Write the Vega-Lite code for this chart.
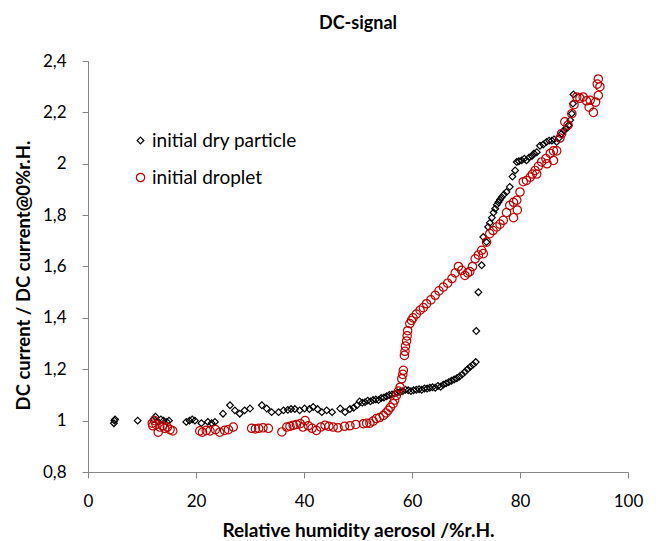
{
  "$schema": "https://vega.github.io/schema/vega-lite/v6.json",
  "autosize": "none",
  "width": 540,
  "height": 411,
  "padding": {"left": 88, "top": 61, "right": 36, "bottom": 69},
  "background": "white",
  "config": {
    "font": "Lato",
    "view": {"stroke": null},
    "axis": {"grid": false, "labelFlush": false, "labelOverlap": false, "domainColor": "#868686", "tickColor": "#868686", "tickSize": 6, "labelFontSize": 17, "labelColor": "#000000", "titleFontWeight": "bold", "titleColor": "#000000", "labelFont": "Lato", "titleFont": "Lato"}
  },
  "title": {"text": "DC-signal", "fontSize": 18, "fontWeight": "bold", "font": "Lato", "color": "#000000", "offset": 19, "anchor": "middle"},
  "data": {"values": [
    {"x":4.8,"y":0.99,"s":"initial dry particle"},{"x":4.9,"y":1.0,"s":"initial dry particle"},{"x":5.0,"y":1.005,"s":"initial dry particle"},{"x":9.2,"y":1.0,"s":"initial dry particle"},{"x":12.2,"y":1.005,"s":"initial dry particle"},{"x":12.5,"y":1.015,"s":"initial dry particle"},{"x":13.0,"y":0.995,"s":"initial dry particle"},{"x":13.5,"y":1.005,"s":"initial dry particle"},{"x":14.0,"y":1.0,"s":"initial dry particle"},{"x":14.6,"y":0.995,"s":"initial dry particle"},{"x":15.0,"y":1.0,"s":"initial dry particle"},{"x":18.2,"y":0.995,"s":"initial dry particle"},{"x":18.8,"y":1.0,"s":"initial dry particle"},{"x":19.3,"y":1.005,"s":"initial dry particle"},{"x":19.8,"y":1.0,"s":"initial dry particle"},{"x":21.0,"y":0.99,"s":"initial dry particle"},{"x":22.2,"y":0.995,"s":"initial dry particle"},{"x":22.9,"y":0.99,"s":"initial dry particle"},{"x":23.5,"y":0.995,"s":"initial dry particle"},{"x":25.0,"y":1.027,"s":"initial dry particle"},{"x":26.3,"y":1.06,"s":"initial dry particle"},{"x":27.2,"y":1.04,"s":"initial dry particle"},{"x":28.1,"y":1.027,"s":"initial dry particle"},{"x":29.0,"y":1.04,"s":"initial dry particle"},{"x":30.0,"y":1.047,"s":"initial dry particle"},{"x":32.2,"y":1.06,"s":"initial dry particle"},{"x":33.1,"y":1.047,"s":"initial dry particle"},{"x":34.0,"y":1.033,"s":"initial dry particle"},{"x":35.3,"y":1.033,"s":"initial dry particle"},{"x":36.2,"y":1.04,"s":"initial dry particle"},{"x":37.0,"y":1.042,"s":"initial dry particle"},{"x":37.6,"y":1.045,"s":"initial dry particle"},{"x":38.3,"y":1.045,"s":"initial dry particle"},{"x":39.2,"y":1.04,"s":"initial dry particle"},{"x":40.1,"y":1.047,"s":"initial dry particle"},{"x":41.0,"y":1.045,"s":"initial dry particle"},{"x":41.7,"y":1.053,"s":"initial dry particle"},{"x":42.5,"y":1.045,"s":"initial dry particle"},{"x":43.3,"y":1.033,"s":"initial dry particle"},{"x":44.2,"y":1.04,"s":"initial dry particle"},{"x":45.2,"y":1.033,"s":"initial dry particle"},{"x":46.7,"y":1.047,"s":"initial dry particle"},{"x":47.6,"y":1.033,"s":"initial dry particle"},{"x":48.5,"y":1.045,"s":"initial dry particle"},{"x":49.2,"y":1.05,"s":"initial dry particle"},{"x":49.8,"y":1.06,"s":"initial dry particle"},{"x":50.3,"y":1.075,"s":"initial dry particle"},{"x":50.8,"y":1.07,"s":"initial dry particle"},{"x":51.3,"y":1.072,"s":"initial dry particle"},{"x":51.8,"y":1.078,"s":"initial dry particle"},{"x":52.3,"y":1.075,"s":"initial dry particle"},{"x":52.8,"y":1.08,"s":"initial dry particle"},{"x":53.3,"y":1.082,"s":"initial dry particle"},{"x":53.8,"y":1.08,"s":"initial dry particle"},{"x":54.3,"y":1.088,"s":"initial dry particle"},{"x":54.8,"y":1.09,"s":"initial dry particle"},{"x":55.3,"y":1.095,"s":"initial dry particle"},{"x":55.8,"y":1.1,"s":"initial dry particle"},{"x":56.3,"y":1.102,"s":"initial dry particle"},{"x":56.8,"y":1.105,"s":"initial dry particle"},{"x":57.3,"y":1.11,"s":"initial dry particle"},{"x":57.8,"y":1.112,"s":"initial dry particle"},{"x":58.3,"y":1.115,"s":"initial dry particle"},{"x":58.8,"y":1.12,"s":"initial dry particle"},{"x":59.3,"y":1.118,"s":"initial dry particle"},{"x":59.8,"y":1.115,"s":"initial dry particle"},{"x":60.3,"y":1.118,"s":"initial dry particle"},{"x":60.8,"y":1.12,"s":"initial dry particle"},{"x":61.3,"y":1.122,"s":"initial dry particle"},{"x":61.8,"y":1.12,"s":"initial dry particle"},{"x":62.3,"y":1.125,"s":"initial dry particle"},{"x":62.8,"y":1.125,"s":"initial dry particle"},{"x":63.3,"y":1.128,"s":"initial dry particle"},{"x":63.8,"y":1.13,"s":"initial dry particle"},{"x":64.3,"y":1.128,"s":"initial dry particle"},{"x":64.8,"y":1.135,"s":"initial dry particle"},{"x":65.3,"y":1.132,"s":"initial dry particle"},{"x":65.8,"y":1.14,"s":"initial dry particle"},{"x":66.3,"y":1.145,"s":"initial dry particle"},{"x":66.8,"y":1.15,"s":"initial dry particle"},{"x":67.3,"y":1.155,"s":"initial dry particle"},{"x":67.8,"y":1.16,"s":"initial dry particle"},{"x":68.3,"y":1.165,"s":"initial dry particle"},{"x":68.8,"y":1.172,"s":"initial dry particle"},{"x":69.3,"y":1.18,"s":"initial dry particle"},{"x":69.8,"y":1.19,"s":"initial dry particle"},{"x":70.3,"y":1.2,"s":"initial dry particle"},{"x":70.8,"y":1.21,"s":"initial dry particle"},{"x":71.3,"y":1.218,"s":"initial dry particle"},{"x":71.8,"y":1.228,"s":"initial dry particle"},{"x":71.9,"y":1.349,"s":"initial dry particle"},{"x":72.3,"y":1.5,"s":"initial dry particle"},{"x":72.9,"y":1.605,"s":"initial dry particle"},{"x":73.2,"y":1.715,"s":"initial dry particle"},{"x":73.8,"y":1.695,"s":"initial dry particle"},{"x":74.1,"y":1.754,"s":"initial dry particle"},{"x":74.4,"y":1.77,"s":"initial dry particle"},{"x":74.8,"y":1.79,"s":"initial dry particle"},{"x":75.1,"y":1.81,"s":"initial dry particle"},{"x":75.4,"y":1.825,"s":"initial dry particle"},{"x":75.7,"y":1.84,"s":"initial dry particle"},{"x":76.0,"y":1.85,"s":"initial dry particle"},{"x":76.3,"y":1.86,"s":"initial dry particle"},{"x":76.6,"y":1.87,"s":"initial dry particle"},{"x":77.0,"y":1.88,"s":"initial dry particle"},{"x":77.5,"y":1.89,"s":"initial dry particle"},{"x":78.1,"y":1.91,"s":"initial dry particle"},{"x":78.6,"y":1.95,"s":"initial dry particle"},{"x":79.1,"y":1.974,"s":"initial dry particle"},{"x":79.4,"y":2.007,"s":"initial dry particle"},{"x":79.8,"y":2.01,"s":"initial dry particle"},{"x":80.3,"y":2.013,"s":"initial dry particle"},{"x":80.8,"y":2.02,"s":"initial dry particle"},{"x":81.2,"y":2.013,"s":"initial dry particle"},{"x":81.7,"y":2.025,"s":"initial dry particle"},{"x":82.2,"y":2.03,"s":"initial dry particle"},{"x":82.6,"y":2.04,"s":"initial dry particle"},{"x":83.1,"y":2.045,"s":"initial dry particle"},{"x":83.7,"y":2.07,"s":"initial dry particle"},{"x":84.3,"y":2.075,"s":"initial dry particle"},{"x":84.9,"y":2.085,"s":"initial dry particle"},{"x":85.4,"y":2.09,"s":"initial dry particle"},{"x":85.9,"y":2.09,"s":"initial dry particle"},{"x":86.3,"y":2.095,"s":"initial dry particle"},{"x":86.8,"y":2.085,"s":"initial dry particle"},{"x":87.2,"y":2.1,"s":"initial dry particle"},{"x":87.7,"y":2.117,"s":"initial dry particle"},{"x":88.1,"y":2.13,"s":"initial dry particle"},{"x":88.6,"y":2.137,"s":"initial dry particle"},{"x":89.0,"y":2.15,"s":"initial dry particle"},{"x":89.3,"y":2.17,"s":"initial dry particle"},{"x":89.6,"y":2.195,"s":"initial dry particle"},{"x":89.8,"y":2.234,"s":"initial dry particle"},{"x":89.9,"y":2.27,"s":"initial dry particle"},
    {"x":12.0,"y":0.98,"s":"initial droplet"},{"x":11.9,"y":0.99,"s":"initial droplet"},{"x":12.3,"y":1.0,"s":"initial droplet"},{"x":12.6,"y":0.985,"s":"initial droplet"},{"x":13.0,"y":0.955,"s":"initial droplet"},{"x":13.3,"y":0.975,"s":"initial droplet"},{"x":13.8,"y":0.98,"s":"initial droplet"},{"x":14.2,"y":0.97,"s":"initial droplet"},{"x":14.7,"y":0.975,"s":"initial droplet"},{"x":15.2,"y":0.965,"s":"initial droplet"},{"x":15.7,"y":0.96,"s":"initial droplet"},{"x":20.7,"y":0.96,"s":"initial droplet"},{"x":21.2,"y":0.955,"s":"initial droplet"},{"x":21.9,"y":0.962,"s":"initial droplet"},{"x":22.6,"y":0.96,"s":"initial droplet"},{"x":23.6,"y":0.965,"s":"initial droplet"},{"x":24.4,"y":0.955,"s":"initial droplet"},{"x":25.3,"y":0.962,"s":"initial droplet"},{"x":26.0,"y":0.965,"s":"initial droplet"},{"x":26.9,"y":0.975,"s":"initial droplet"},{"x":30.3,"y":0.97,"s":"initial droplet"},{"x":31.0,"y":0.968,"s":"initial droplet"},{"x":31.6,"y":0.97,"s":"initial droplet"},{"x":32.4,"y":0.972,"s":"initial droplet"},{"x":33.4,"y":0.97,"s":"initial droplet"},{"x":35.9,"y":0.956,"s":"initial droplet"},{"x":36.8,"y":0.975,"s":"initial droplet"},{"x":37.4,"y":0.978,"s":"initial droplet"},{"x":38.0,"y":0.982,"s":"initial droplet"},{"x":38.6,"y":0.985,"s":"initial droplet"},{"x":39.3,"y":0.988,"s":"initial droplet"},{"x":39.8,"y":0.975,"s":"initial droplet"},{"x":40.2,"y":1.0,"s":"initial droplet"},{"x":40.8,"y":0.98,"s":"initial droplet"},{"x":41.5,"y":0.97,"s":"initial droplet"},{"x":42.3,"y":0.962,"s":"initial droplet"},{"x":43.1,"y":0.975,"s":"initial droplet"},{"x":43.9,"y":0.982,"s":"initial droplet"},{"x":44.6,"y":0.978,"s":"initial droplet"},{"x":45.4,"y":0.975,"s":"initial droplet"},{"x":46.3,"y":0.972,"s":"initial droplet"},{"x":47.5,"y":0.978,"s":"initial droplet"},{"x":48.5,"y":0.98,"s":"initial droplet"},{"x":49.6,"y":0.985,"s":"initial droplet"},{"x":51.0,"y":0.988,"s":"initial droplet"},{"x":51.6,"y":0.99,"s":"initial droplet"},{"x":52.2,"y":0.99,"s":"initial droplet"},{"x":52.8,"y":0.998,"s":"initial droplet"},{"x":53.4,"y":1.008,"s":"initial droplet"},{"x":54.0,"y":1.012,"s":"initial droplet"},{"x":54.7,"y":1.02,"s":"initial droplet"},{"x":55.2,"y":1.03,"s":"initial droplet"},{"x":55.6,"y":1.04,"s":"initial droplet"},{"x":56.0,"y":1.052,"s":"initial droplet"},{"x":56.5,"y":1.066,"s":"initial droplet"},{"x":56.8,"y":1.08,"s":"initial droplet"},{"x":57.1,"y":1.098,"s":"initial droplet"},{"x":57.5,"y":1.115,"s":"initial droplet"},{"x":57.8,"y":1.13,"s":"initial droplet"},{"x":58.1,"y":1.163,"s":"initial droplet"},{"x":58.3,"y":1.18,"s":"initial droplet"},{"x":58.4,"y":1.196,"s":"initial droplet"},{"x":58.6,"y":1.254,"s":"initial droplet"},{"x":58.7,"y":1.27,"s":"initial droplet"},{"x":58.8,"y":1.29,"s":"initial droplet"},{"x":59.0,"y":1.31,"s":"initial droplet"},{"x":59.1,"y":1.33,"s":"initial droplet"},{"x":59.2,"y":1.35,"s":"initial droplet"},{"x":59.6,"y":1.378,"s":"initial droplet"},{"x":59.9,"y":1.39,"s":"initial droplet"},{"x":60.2,"y":1.4,"s":"initial droplet"},{"x":60.8,"y":1.415,"s":"initial droplet"},{"x":61.5,"y":1.43,"s":"initial droplet"},{"x":62.1,"y":1.44,"s":"initial droplet"},{"x":62.7,"y":1.455,"s":"initial droplet"},{"x":63.5,"y":1.47,"s":"initial droplet"},{"x":64.3,"y":1.488,"s":"initial droplet"},{"x":65.0,"y":1.505,"s":"initial droplet"},{"x":65.8,"y":1.52,"s":"initial droplet"},{"x":66.6,"y":1.535,"s":"initial droplet"},{"x":67.4,"y":1.553,"s":"initial droplet"},{"x":68.0,"y":1.575,"s":"initial droplet"},{"x":68.6,"y":1.6,"s":"initial droplet"},{"x":69.2,"y":1.585,"s":"initial droplet"},{"x":69.8,"y":1.565,"s":"initial droplet"},{"x":70.3,"y":1.575,"s":"initial droplet"},{"x":70.7,"y":1.58,"s":"initial droplet"},{"x":71.2,"y":1.6,"s":"initial droplet"},{"x":71.7,"y":1.63,"s":"initial droplet"},{"x":72.3,"y":1.645,"s":"initial droplet"},{"x":72.9,"y":1.663,"s":"initial droplet"},{"x":73.2,"y":1.65,"s":"initial droplet"},{"x":73.8,"y":1.695,"s":"initial droplet"},{"x":74.4,"y":1.728,"s":"initial droplet"},{"x":75.0,"y":1.74,"s":"initial droplet"},{"x":75.7,"y":1.754,"s":"initial droplet"},{"x":76.3,"y":1.765,"s":"initial droplet"},{"x":76.9,"y":1.78,"s":"initial droplet"},{"x":77.5,"y":1.81,"s":"initial droplet"},{"x":78.1,"y":1.838,"s":"initial droplet"},{"x":78.8,"y":1.79,"s":"initial droplet"},{"x":78.8,"y":1.85,"s":"initial droplet"},{"x":79.4,"y":1.858,"s":"initial droplet"},{"x":79.5,"y":1.82,"s":"initial droplet"},{"x":80.0,"y":1.89,"s":"initial droplet"},{"x":80.6,"y":1.93,"s":"initial droplet"},{"x":81.2,"y":1.935,"s":"initial droplet"},{"x":81.9,"y":1.948,"s":"initial droplet"},{"x":82.3,"y":1.96,"s":"initial droplet"},{"x":82.8,"y":1.974,"s":"initial droplet"},{"x":83.1,"y":1.96,"s":"initial droplet"},{"x":83.4,"y":1.99,"s":"initial droplet"},{"x":84.0,"y":2.007,"s":"initial droplet"},{"x":84.8,"y":2.02,"s":"initial droplet"},{"x":85.0,"y":2.0,"s":"initial droplet"},{"x":85.6,"y":2.04,"s":"initial droplet"},{"x":86.2,"y":2.013,"s":"initial droplet"},{"x":86.2,"y":2.05,"s":"initial droplet"},{"x":86.8,"y":2.05,"s":"initial droplet"},{"x":87.4,"y":2.1,"s":"initial droplet"},{"x":87.7,"y":2.117,"s":"initial droplet"},{"x":88.3,"y":2.163,"s":"initial droplet"},{"x":88.9,"y":2.15,"s":"initial droplet"},{"x":89.6,"y":2.195,"s":"initial droplet"},{"x":90.0,"y":2.23,"s":"initial droplet"},{"x":90.5,"y":2.26,"s":"initial droplet"},{"x":91.1,"y":2.255,"s":"initial droplet"},{"x":91.7,"y":2.26,"s":"initial droplet"},{"x":92.3,"y":2.245,"s":"initial droplet"},{"x":92.8,"y":2.22,"s":"initial droplet"},{"x":93.0,"y":2.247,"s":"initial droplet"},{"x":93.6,"y":2.2,"s":"initial droplet"},{"x":94.0,"y":2.24,"s":"initial droplet"},{"x":94.5,"y":2.266,"s":"initial droplet"},{"x":94.8,"y":2.3,"s":"initial droplet"},{"x":94.3,"y":2.31,"s":"initial droplet"},{"x":94.5,"y":2.33,"s":"initial droplet"}
  ]},
  "mark": {"type": "point", "filled": false, "strokeWidth": 1.2, "opacity": 1},
  "encoding": {
    "x": {"field": "x", "type": "quantitative", "scale": {"domain": [0, 100], "nice": false, "zero": false},
      "axis": {"title": "Relative humidity aerosol /%r.H.", "titleFontSize": 19, "values": [0, 20, 40, 60, 80, 100], "labelPadding": 15, "titlePadding": 12}},
    "y": {"field": "y", "type": "quantitative", "scale": {"domain": [0.8, 2.4], "nice": false, "zero": false},
      "axis": {"title": "DC current / DC current@0%r.H.", "titleFontSize": 18.5, "titleY": 214, "values": [0.8, 1, 1.2, 1.4, 1.6, 1.8, 2, 2.2, 2.4], "format": "~g", "labelExpr": "replace(datum.label, '.', ',')", "labelPadding": 16, "titlePadding": 9}},
    "shape": {"field": "s", "type": "nominal", "scale": {"domain": ["initial dry particle", "initial droplet"], "range": ["diamond", "circle"]},
      "legend": {"title": null, "orient": "none", "legendX": 43, "legendY": 70, "labelFontSize": 19, "labelFont": "Lato", "labelColor": "#000000", "symbolSize": 40, "symbolStrokeWidth": 1.2, "rowPadding": 17, "labelOffset": 2}},
    "color": {"field": "s", "type": "nominal", "scale": {"domain": ["initial dry particle", "initial droplet"], "range": ["#000000", "#C00000"]}},
    "size": {"field": "s", "type": "nominal", "scale": {"domain": ["initial dry particle", "initial droplet"], "range": [45, 70]}}
  }
}
